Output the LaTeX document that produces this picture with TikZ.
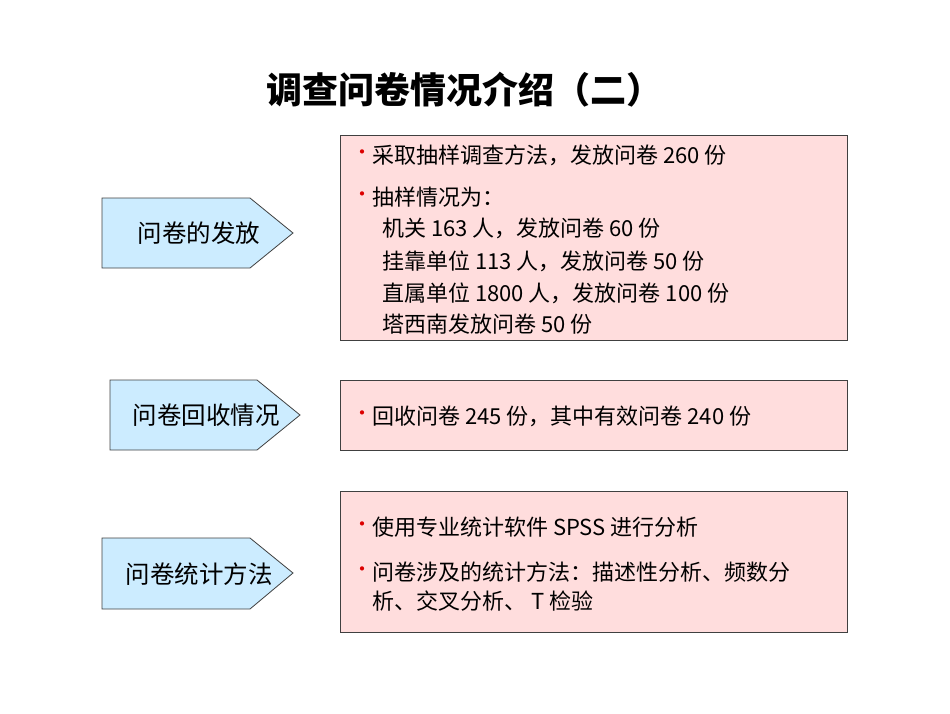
\documentclass[tikz,border=0pt]{standalone}
\usepackage{fontspec}
\newfontfamily\cjk{Noto Sans CJK SC}
\definecolor{arrowfill}{RGB}{204,236,255}
\definecolor{boxfill}{RGB}{255,221,221}
\definecolor{bul}{RGB}{220,0,0}
\tikzset{
  pent/.style={draw=black!75, fill=arrowfill, line width=0.8pt},
  infobox/.style={draw=black!75, fill=boxfill, line width=0.8pt},
  lbl/.style={font=\cjk\fontsize{24.5}{28}\selectfont},
  txt/.style={anchor=west, inner sep=0pt, font=\cjk\fontsize{22}{26}\selectfont},
  bl/.style={anchor=west, inner sep=0pt, text=bul, font=\cjk\fontsize{20}{24}\selectfont}
}
\begin{document}
\begin{tikzpicture}[x=1pt,y=-1pt]
\useasboundingbox (0,0) rectangle (950,713);
\node[font=\cjk\bfseries\fontsize{36}{42}\selectfont] (title) at (464,90) {调查问卷情况介绍（二）};
% left arrows
\draw[pent] (102,198) -- (250,198) -- (293,233) -- (250,268) -- (102,268) -- cycle;
\node[lbl] (l1) at (199,233) {问卷的发放};
\draw[pent] (110,380) -- (257,380) -- (300,415) -- (257,450) -- (110,450) -- cycle;
\node[lbl] (l2) at (206,415) {问卷回收情况};
\draw[pent] (102,538) -- (250,538) -- (293,573) -- (250,609) -- (102,609) -- cycle;
\node[lbl] (l3) at (199,574) {问卷统计方法};
% right boxes
\draw[infobox] (340,135) rectangle (847,340);
\node[bl] at (352,155) {•};
\node[txt] (a1) at (372,155) {采取抽样调查方法，发放问卷 260 份};
\node[bl] at (352,197) {•};
\node[txt] (a2) at (372,197) {抽样情况为：};
\node[txt] (a3) at (382,228) {机关 163 人，发放问卷 60 份};
\node[txt] (a4) at (382,261) {挂靠单位 113 人，发放问卷 50 份};
\node[txt] (a5) at (382,293) {直属单位 1800 人，发放问卷 100 份};
\node[txt] (a6) at (382,324) {塔西南发放问卷 50 份};
\draw[infobox] (340,380) rectangle (847,450);
\node[bl] at (352,416) {•};
\node[txt] (b1) at (372,416) {回收问卷 245 份，其中有效问卷 240 份};
\draw[infobox] (340,491) rectangle (847,632);
\node[bl] at (352,527) {•};
\node[txt] (c1) at (372,527) {使用专业统计软件 SPSS 进行分析};
\node[bl] at (352,572) {•};
\node[txt] (c2) at (372,572) {问卷涉及的统计方法：描述性分析、频数分};
\node[txt] (c3) at (372,601) {析、交叉分析、 T 检验};
\end{tikzpicture}
\end{document}
